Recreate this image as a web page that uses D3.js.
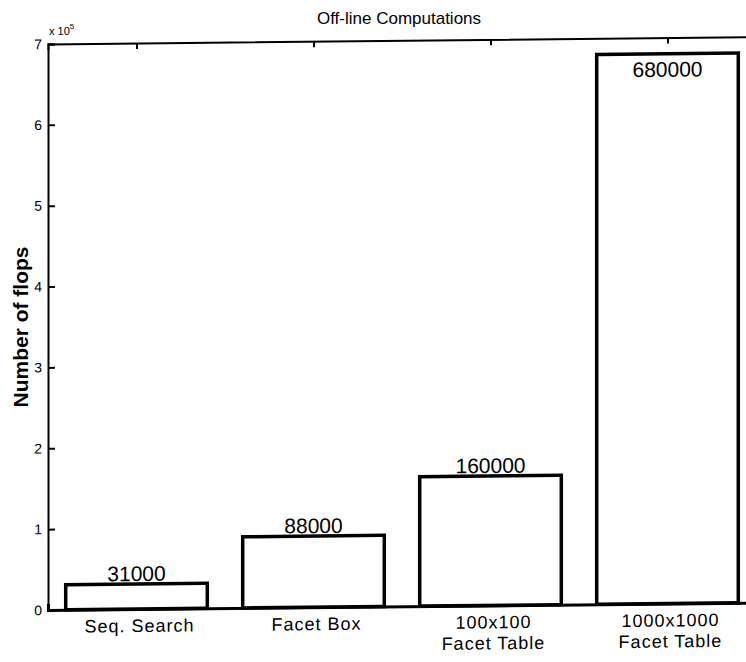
<!DOCTYPE html>
<html>
<head>
<meta charset="utf-8">
<script src="https://cdn.jsdelivr.net/npm/d3@7"></script>
<style>
  html, body { margin: 0; padding: 0; background: #fff; }
  svg { display: block; font-family: "Liberation Sans", Arial, Helvetica, sans-serif; }
</style>
</head>
<body>
<script>
// ---- data ----
const categories = [["Seq. Search"], ["Facet Box"], ["100x100", "Facet Table"], ["1000x1000", "Facet Table"]];
const values = [31000, 88000, 160000, 680000];
const valueLabels = ["31000", "88000", "160000", "680000"];
const yTickValues = [0, 100000, 200000, 300000, 400000, 500000, 600000, 700000];
const titleText = "Off-line Computations";
const yLabelText = "Number of flops";
const exponentText = "5";

(function () {
// ---- layout ----
const W = 746, H = 662;
const mLeft = 48, mRight = 756, mTop = 44, mBottom = 610;

const svg = d3.select("body").append("svg").attr("width", W).attr("height", H);

// scanned page is slightly sheared: horizontal lines rise to the right
const g = svg.append("g").attr("transform", `translate(${mLeft},0) skewY(-0.6) translate(${-mLeft},0)`);

const x = d3.scaleLinear().domain([0.5, categories.length + 0.5]).range([mLeft, mRight]);
const y = d3.scaleLinear().domain([0, 700000]).range([mBottom, mTop]);
const barW = 0.8 * (x(2) - x(1));
const idx = d3.range(categories.length);

// bottom axis (ticks inward, behind bars)
const xAxisB = d3.axisBottom(x).tickValues(idx.map(i => i + 1)).tickSize(-6).tickFormat("");
const gb = g.append("g").attr("transform", `translate(0,${mBottom})`).call(xAxisB);
// top axis
const xAxisT = d3.axisTop(x).tickValues(idx.map(i => i + 1)).tickSize(-6).tickFormat("");
const gt = g.append("g").attr("transform", `translate(0,${mTop})`).call(xAxisT);
// left axis
const yAxis = d3.axisLeft(y).tickValues(yTickValues).tickSize(-7).tickPadding(6)
  .tickFormat(d => d3.format("d")(d / 100000));
const gl = g.append("g").attr("transform", `translate(${mLeft},0)`).call(yAxis);

[gb, gt, gl].forEach(a => {
  a.select(".domain").attr("stroke", "#000").attr("stroke-width", 2);
  a.selectAll(".tick line").attr("stroke", "#000").attr("stroke-width", 2);
});
gl.selectAll(".tick text").attr("font-size", 14).attr("fill", "#000")
  .attr("font-family", "'Liberation Sans', Arial, sans-serif");
gb.select(".domain").attr("stroke-width", 3);

// bars
g.selectAll("rect.bar").data(idx).join("rect")
  .attr("class", "bar")
  .attr("x", i => x(i + 1) - barW / 2)
  .attr("width", barW)
  .attr("y", i => y(values[i]))
  .attr("height", i => y(0) - y(values[i]))
  .attr("fill", "#fff")
  .attr("stroke", "#000")
  .attr("stroke-width", 3.5);

// value labels
g.selectAll("text.val").data(idx).join("text")
  .attr("class", "val")
  .attr("x", i => x(i + 1))
  .attr("y", i => (y(values[i]) - 22 < y(700000)) ? y(values[i]) + 23 : y(values[i]) - 3)
  .attr("text-anchor", "middle")
  .attr("font-size", 21)
  .attr("fill", "#000")
  .text(i => valueLabels[i]);

// category labels (one text per line)
const catLines = [];
idx.forEach(i => categories[i].forEach((t, k) => catLines.push({ t, i, k })));
g.selectAll("text.cat").data(catLines).join("text")
  .attr("class", "cat")
  .attr("x", d => x(d.i + 1) + 3)
  .attr("y", d => mBottom + 23 + d.k * 21)
  .attr("text-anchor", "middle")
  .attr("font-size", 18)
  .attr("letter-spacing", 1)
  .attr("fill", "#000")
  .text(d => d.t);

// title
svg.append("text")
  .attr("x", 399).attr("y", 24)
  .attr("text-anchor", "middle")
  .attr("font-size", 17)
  .attr("fill", "#000")
  .text(titleText);

// y label
svg.append("text")
  .attr("transform", `translate(28,${(mTop + mBottom) / 2}) rotate(-90)`)
  .attr("text-anchor", "middle")
  .attr("font-size", 21)
  .attr("font-weight", "bold")
  .attr("fill", "#000")
  .text(yLabelText);

// exponent marker
const ex = svg.append("text").attr("x", 49).attr("y", 35).attr("font-size", 11).attr("fill", "#000");
ex.append("tspan").text("x 10");
ex.append("tspan").attr("dy", -6).attr("font-size", 8).text(exponentText);
})();
</script>
</body>
</html>
